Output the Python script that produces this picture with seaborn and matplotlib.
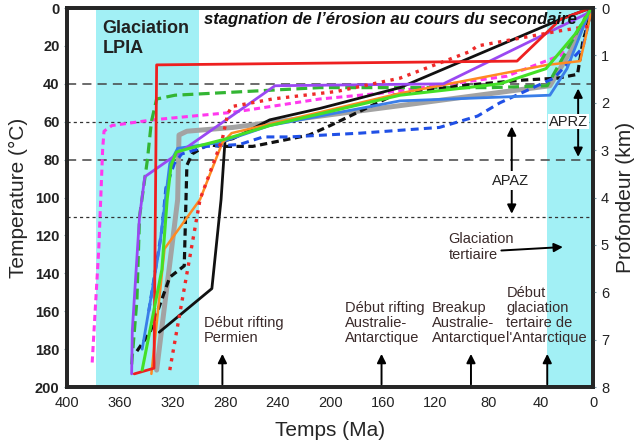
import matplotlib
matplotlib.use("Agg")
import matplotlib.pyplot as plt
import seaborn as sns

# histoires thermiques : temps (Ma) et temperature (degC)
red_ma = [349, 334, 332, 58, 25, 2]
red_t = [193, 190, 30, 28, 6, 0]

black_ma = [330, 290, 283, 280, 274, 246, 208, 147, 86, 25, 2]
black_t = [171, 148, 101, 70, 69, 59, 53, 42, 24, 6, 0]

black_dash_ma = [347, 337, 322, 311, 309, 305, 293, 283, 259, 216, 200, 152, 101, 53, 27, 12, 8, 2]
black_dash_t = [181, 171, 142, 136, 83, 77, 72, 73, 73, 67, 62, 46, 41, 38, 37, 35, 18, 3]

red_dot_ma = [322, 299, 282, 278, 275, 244, 195, 147, 94, 88, 25, 2]
red_dot_t = [191, 101, 69, 56, 52, 48, 44, 37, 23, 20, 12, 9.5]

green_dash_ma = [351, 347, 345, 339, 336, 332, 318, 208, 78, 35, 15, 2]
green_dash_t = [188, 154, 110, 80, 60, 48, 46, 42, 42, 41, 16, 0]

purple_ma = [351, 350.5, 345, 341, 242, 114, 2]
purple_t = [193, 170, 110, 89, 41, 40, 2]

magenta_ma = [381, 376, 373, 372, 366, 335, 274, 208, 162, 66, 25, 2]
magenta_t = [187, 127, 74, 65, 62, 59, 55, 48, 45, 36, 25, 3]

gray_ma = [332, 316, 315, 309, 274, 147, 33, 14, 2]
gray_t = [191, 101, 67, 65, 63, 51.5, 41, 19, 0]

blue_ma = [343, 330, 322, 316, 284, 246, 147, 33, 20, 2]
blue_t = [180, 127, 82, 74, 71, 62, 49, 46, 32, 0]

blue_dash_ma = [338, 328, 325, 318.5, 313, 294, 269, 251, 231, 177, 117, 88, 71, 30, 8, 2]
blue_dash_t = [160, 117, 95, 82, 77, 73, 72, 68, 68, 66, 63, 57, 50, 37, 21, 3]

green_ma = [343, 328, 324, 321, 317, 307, 279, 246, 147, 71, 36, 14, 2]
green_t = [191, 138, 101, 83, 76, 74, 69, 62, 46, 40, 32, 14, 1]

orange_ma = [336, 326, 299, 282, 275, 147, 35, 10, 6, 1]
orange_t = [193, 127, 101, 71, 66, 45, 30, 28, 16, 0]

series = [
    (gray_ma, gray_t, "#a3a3a3", "-", 3.6),
    (magenta_ma, magenta_t, "#ff38ee", (0, (2.0, 1.4)), 2.2),
    (green_dash_ma, green_dash_t, "#33b533", (0, (3.4, 1.7)), 2.3),
    (black_ma, black_t, "#111111", "-", 2.0),
    (black_dash_ma, black_dash_t, "#111111", (0, (2.3, 1.4)), 2.3),
    (blue_dash_ma, blue_dash_t, "#2050e6", (0, (2.6, 1.7)), 2.2),
    (blue_ma, blue_t, "#3a7ee8", "-", 2.0),
    (orange_ma, orange_t, "#ff8a22", "-", 1.8),
    (purple_ma, purple_t, "#9a48f2", "-", 2.0),
    (red_dot_ma, red_dot_t, "#ee2a2a", ":", 2.4),
    (red_ma, red_t, "#ee2020", "-", 2.0),
    (green_ma, green_t, "#44e026", "-", 2.2),
]

# periodes glaciaires (Ma)
lpia = (378, 300)
tertiaire = (35, 0)

# isothermes de reference (degC)
ref_dashed = [40, 80]
ref_dotted = [60, 110]

sns.set_style("white")
plt.rcParams["font.family"] = ["Liberation Sans", "DejaVu Sans"]

fig = plt.figure(figsize=(6.4, 4.45), dpi=100)
ax = fig.add_axes([0.105, 0.13, 0.822, 0.852])

ax.axvspan(lpia[0], lpia[1], color="#a2f0f5", lw=0, zorder=0)
ax.axvspan(tertiaire[0], tertiaire[1], color="#a2f0f5", lw=0, zorder=0)

for y in ref_dashed:
    ax.axhline(y, color="#444444", lw=1.1, linestyle=(0, (6, 4)), zorder=1)
for y in ref_dotted:
    ax.axhline(y, color="#333333", lw=0.9, linestyle=(0, (2.5, 2.5)), zorder=1)

for ma, t, c, ls, lw in series:
    sns.lineplot(x=ma, y=t, ax=ax, sort=False, estimator=None, color=c,
                 linestyle=ls, lw=lw, zorder=3)

ax.set_xlim(400, 0)
ax.set_ylim(200, 0)
ax.set_xticks(range(400, -1, -40))
ax.set_yticks(range(0, 201, 20))
ax.set_xticks(range(380, 0, -40), minor=True)
ax.tick_params(axis="x", which="both", direction="out", length=2.5, color="#7a9aa8",
               labelsize=10.5, pad=4, labelcolor="#222222")
ax.tick_params(axis="y", which="both", direction="out", length=2.5, color="#7a9aa8",
               labelsize=10.5, pad=3, labelcolor="#222222")
for lab in ax.get_yticklabels():
    lab.set_fontweight("bold")
for sp in ax.spines.values():
    sp.set_linewidth(2.6)
    sp.set_color("black")

ax.set_xlabel("Temps (Ma)", fontsize=15, labelpad=8)
ax.set_ylabel("Temperature (°C)", fontsize=15, labelpad=5)

ax2 = ax.twinx()
ax2.set_ylim(8, 0)
ax2.set_yticks(range(0, 9))
ax2.tick_params(axis="y", direction="out", length=2.5, color="#7a9aa8",
                labelsize=10.5, pad=3, labelcolor="#222222")
ax2.set_ylabel("Profondeur (km)", fontsize=15, labelpad=5)
for sp in ax2.spines.values():
    sp.set_linewidth(2.6)

txt = "#3a2a2a"
ax.text(373, 6.5, "Glaciation\nLPIA", fontsize=13, fontweight="bold", va="top",
        ha="left", color="#222222", zorder=5)
ax.text(296, 6, "stagnation de l’érosion au cours du secondaire", fontsize=12,
        fontweight="bold", fontstyle="italic", va="center", ha="left",
        color="#111111", zorder=5)

arrow = dict(arrowstyle="-|>", color="black", lw=1.4, mutation_scale=13)
darrow = dict(arrowstyle="<|-|>", color="black", lw=1.4, mutation_scale=13)

ax.annotate("", xy=(11.5, 41), xytext=(11.5, 80), arrowprops=darrow, zorder=4)
ax.text(19, 60, "APRZ", fontsize=10.5, ha="center", va="center", color="#222222",
        bbox=dict(fc="white", ec="none", pad=0.5), zorder=5)
ax.annotate("", xy=(62, 61), xytext=(62, 110), arrowprops=darrow, zorder=4)
ax.text(63, 91, "APAZ", fontsize=10.5, ha="center", va="center", color="#222222",
        bbox=dict(fc="white", ec="none", pad=1.5), zorder=5)

ax.text(110, 126, "Glaciation\ntertiaire", fontsize=10.5, ha="left", va="center",
        color=txt, zorder=5)
ax.annotate("", xy=(21, 126), xytext=(72, 128), arrowprops=arrow, zorder=4)

events = [
    (282, 296, "Début rifting\nPermien"),
    (161, 189, "Début rifting\nAustralie-\nAntarctique"),
    (93, 123, "Breakup\nAustralie-\nAntarctique"),
    (35, 66, "Début\nglaciation\ntertaire de\nl'Antarctique"),
]
for x_ev, x_txt, label in events:
    ax.text(x_txt, 178, label, fontsize=10.5, ha="left", va="bottom", color=txt,
            linespacing=1.1, zorder=5)
    ax.annotate("", xy=(x_ev, 181), xytext=(x_ev, 200), arrowprops=arrow, zorder=4)

fig.savefig("out.png", dpi=100)
